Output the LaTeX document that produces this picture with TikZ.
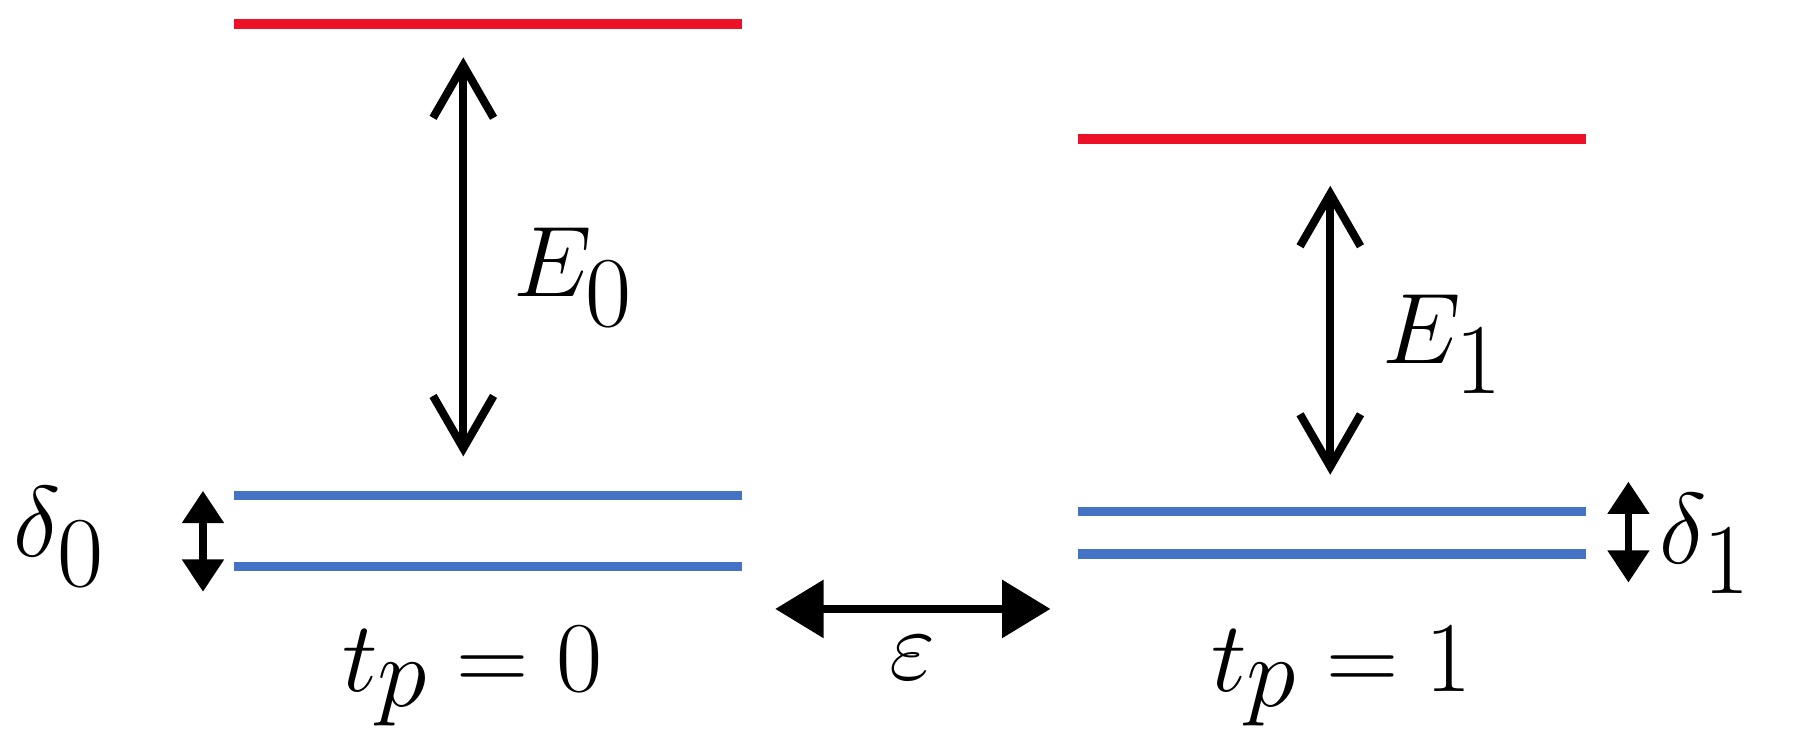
\documentclass[tikz,border=0pt]{standalone}
\usetikzlibrary{arrows.meta}
\begin{document}
\begin{tikzpicture}[x=0.01cm,y=-0.01cm,
  red lvl/.style={line width=2.4pt,draw={rgb,255:red,237;green,17;blue,39}},
  blue lvl/.style={line width=2.4pt,draw={rgb,255:red,68;green,114;blue,196}},
  open arr/.style={line width=2pt,{Straight Barb[length=13pt,width=15pt,line width=2pt]}-{Straight Barb[length=13pt,width=15pt,line width=2pt]}},
  fill arr/.style={line width=1.8pt,{Triangle[length=8pt,width=10pt]}-{Triangle[length=8pt,width=10pt]}},
  efill arr/.style={line width=2pt,{Triangle[length=12pt,width=14pt]}-{Triangle[length=12pt,width=14pt]}},
  lbl/.style={inner sep=0pt,font=\fontsize{36}{40}\selectfont}]
\useasboundingbox (0,0) rectangle (1567,649);
\draw[red lvl] (204,21) -- (647,21);
\draw[blue lvl] (204,432) -- (647,432);
\draw[blue lvl] (204,494) -- (647,494);
\draw[red lvl] (940,121) -- (1383,121);
\draw[blue lvl] (940,446) -- (1383,446);
\draw[blue lvl] (940,483) -- (1383,483);
\coordinate (a0) at (404,50); \coordinate (b0) at (404,398);
\draw[open arr] (a0) -- (b0);
\coordinate (a1) at (1160,162); \coordinate (b1) at (1160,414);
\draw[open arr] (a1) -- (b1);
\coordinate (d0a) at (177,428); \coordinate (d0b) at (177,516);
\draw[fill arr] (d0a) -- (d0b);
\coordinate (d1a) at (1420,420); \coordinate (d1b) at (1420,508);
\draw[fill arr] (d1a) -- (d1b);
\coordinate (ea) at (676,531); \coordinate (eb) at (916,531);
\draw[efill arr] (ea) -- (eb);
\node[lbl] (E0) at (500,242) {$E_0$};
\node[lbl] (E1) at (1258,300) {$E_1$};
\node[lbl] (d0) at (52,468) {$\delta_0$};
\node[lbl] (d1) at (1487,474) {$\delta_1$};
\node[lbl] (eps) at (796,574) {$\varepsilon$};
\node[lbl] (t0) at (412,590) {$t_p=0$};
\node[lbl] (t1) at (1170,590) {$t_p=1$};
\end{tikzpicture}
\end{document}
